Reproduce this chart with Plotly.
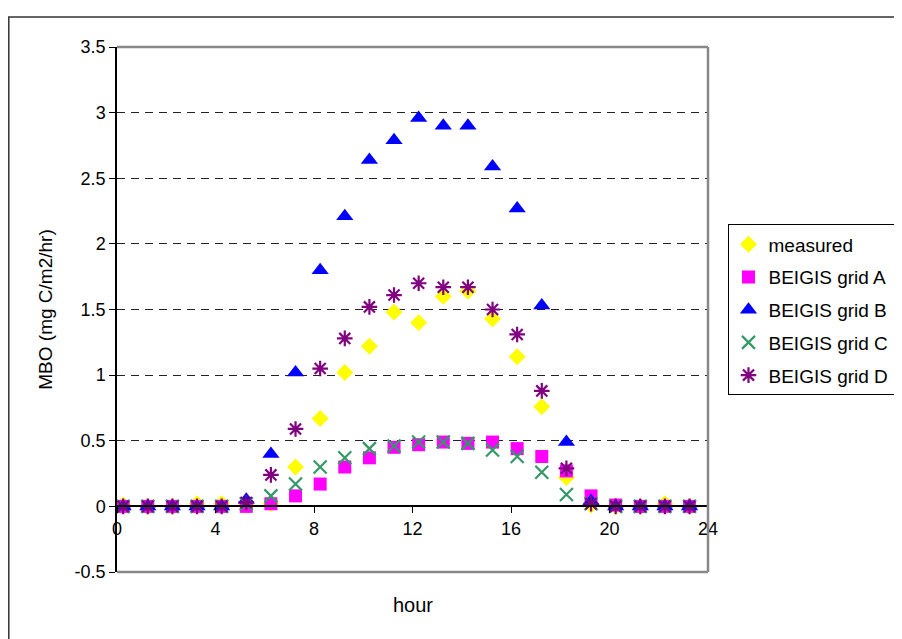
import plotly.graph_objects as go

hours = [h + 0.25 for h in range(24)]
measured = [0.01, 0, 0, 0.02, 0.02, 0.01, 0.02, 0.30, 0.67, 1.02, 1.22, 1.48,
            1.40, 1.60, 1.64, 1.43, 1.14, 0.76, 0.22, 0.01, 0, 0, 0.02, 0]
grid_a = [0, 0, 0, 0, 0, 0, 0.02, 0.08, 0.17, 0.30, 0.37, 0.45,
          0.47, 0.49, 0.48, 0.49, 0.44, 0.38, 0.27, 0.08, 0.01, 0, 0, 0]
grid_b = [0, 0, 0, 0, 0, 0.05, 0.40, 1.02, 1.80, 2.21, 2.64, 2.79,
          2.96, 2.90, 2.90, 2.59, 2.27, 1.53, 0.49, 0.04, 0, 0, 0, 0]
grid_c = [0, 0, 0, 0, 0, 0.02, 0.08, 0.17, 0.30, 0.37, 0.44, 0.46,
          0.49, 0.49, 0.48, 0.43, 0.38, 0.26, 0.09, 0.02, 0, 0, 0, 0]
grid_d = [0, 0, 0, 0, 0, 0.03, 0.24, 0.59, 1.05, 1.28, 1.52, 1.61,
          1.70, 1.67, 1.67, 1.50, 1.31, 0.88, 0.29, 0.02, 0, 0, 0, 0]

x_ticks = [0, 4, 8, 12, 16, 20, 24]
y_ticks = [-0.5, 0, 0.5, 1, 1.5, 2, 2.5, 3, 3.5]
y_ticktext = ["-0.5", "0", "0.5", "1", "1.5", "2", "2.5", "3", "3.5"]

FONT = "Liberation Sans, Arial, sans-serif"

series = [
    ("measured", measured, dict(symbol="diamond", size=13, color="#FFFF00")),
    ("BEIGIS grid A", grid_a, dict(symbol="square", size=13, color="#FF00FF")),
    ("BEIGIS grid B", grid_b, dict(symbol="triangle-up", size=15, color="#0000FF")),
    ("BEIGIS grid C", grid_c, dict(symbol="x-thin-open", size=13, color="#339966",
                                   line=dict(width=2.2, color="#339966"))),
    ("BEIGIS grid D", grid_d, dict(symbol="asterisk-open", size=13, color="#800080",
                                   line=dict(width=2.2, color="#800080"))),
]

fig = go.Figure()
for i, (name, vals, mk) in enumerate(series):
    fig.add_trace(go.Scatter(x=hours, y=vals, mode="markers", name=name,
                             marker=mk, legendgroup=f"g{i}", cliponaxis=False))

fig.update_layout(
    width=894, height=631,
    margin=dict(l=109, r=194, t=39, b=67, autoexpand=False),
    paper_bgcolor="white", plot_bgcolor="white",
    font=dict(family=FONT, size=18, color="black"),
    showlegend=True,
    legend=dict(x=1.033, xanchor="left", y=0.662, yanchor="top",
                bordercolor="black", borderwidth=1,
                font=dict(family=FONT, size=19, color="black"),
                tracegroupgap=5, itemwidth=30),
    xaxis=dict(range=[0, 24], tickvals=x_ticks, ticktext=[str(v) for v in x_ticks],
               anchor="free", position=0.125, showline=True, linecolor="black",
               linewidth=1.5, ticks="outside", ticklen=6, tickcolor="black",
               showgrid=False, zeroline=False, tickfont=dict(size=18)),
    yaxis=dict(range=[-0.5, 3.5], tickvals=y_ticks, ticktext=y_ticktext,
               showline=True, linecolor="black", linewidth=1.5,
               ticks="outside", ticklen=6, tickcolor="black",
               showgrid=True, gridcolor="#222222", gridwidth=1, griddash="8px,6px",
               zeroline=False, tickfont=dict(size=18),
               title=dict(text="MBO (mg C/m2/hr)", font=dict(size=19), standoff=17)),
    annotations=[dict(text="hour", xref="paper", yref="paper", x=0.5, y=-0.063,
                      xanchor="center", yanchor="middle", showarrow=False,
                      font=dict(size=20, family=FONT))],
    shapes=[
        dict(type="line", xref="paper", yref="paper", x0=0, x1=1, y0=1, y1=1,
             line=dict(color="#888888", width=2.5), layer="above"),
        dict(type="line", xref="paper", yref="paper", x0=1, x1=1, y0=0, y1=1,
             line=dict(color="#888888", width=2.5), layer="above"),
        dict(type="line", xref="paper", yref="paper", x0=0, x1=1, y0=0, y1=0,
             line=dict(color="#888888", width=2.5), layer="above"),
        dict(type="rect", xref="paper", yref="paper", x0=(-109 + 0.8) / 591, x1=1.5,
             y0=-0.3, y1=1.0571, line=dict(color="#333333", width=1.5),
             fillcolor="rgba(0,0,0,0)", layer="below"),
    ],
)

fig.write_html("out.html")
